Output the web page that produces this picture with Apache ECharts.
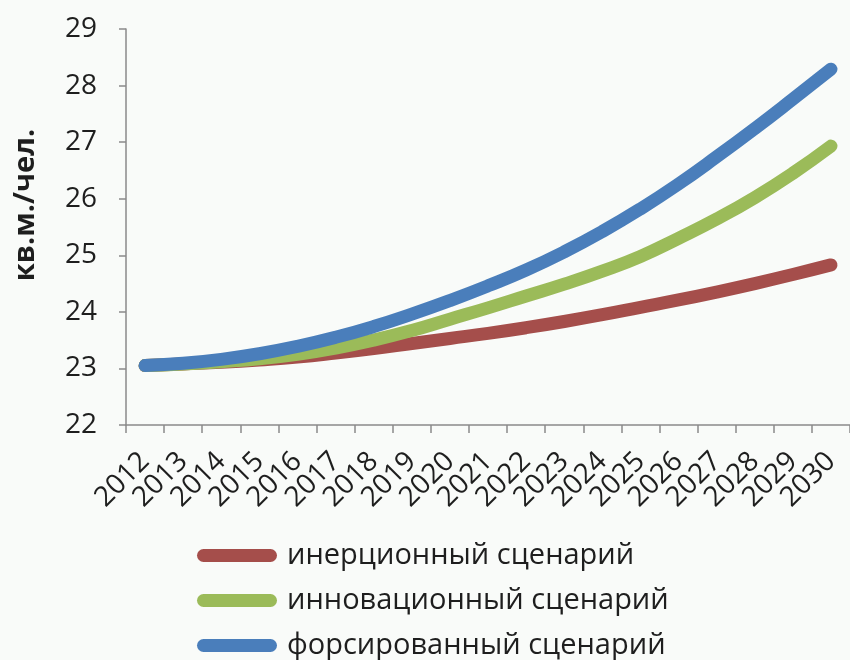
<!DOCTYPE html>
<html>
<head>
<meta charset="utf-8">
<script src="https://cdn.jsdelivr.net/npm/echarts@6/dist/echarts.min.js"></script>
<style>
  html, body { margin: 0; padding: 0; background: #f9fbf9; }
  #chart { width: 850px; height: 660px; }
</style>
</head>
<body>
<div id="chart"></div>
<script>
// Years on the horizontal axis
const years = ['2012','2013','2014','2015','2016','2017','2018','2019','2020','2021',
               '2022','2023','2024','2025','2026','2027','2028','2029','2030'];

// Housing per person, sq. m, for each scenario
const inertial   = [23.05, 23.08, 23.11, 23.15, 23.20, 23.27, 23.35, 23.44, 23.53, 23.62,
                    23.72, 23.83, 23.95, 24.08, 24.21, 24.35, 24.50, 24.66, 24.83];
const innovative = [23.05, 23.08, 23.12, 23.17, 23.25, 23.36, 23.50, 23.67, 23.87, 24.07,
                    24.28, 24.49, 24.72, 24.98, 25.30, 25.64, 26.02, 26.45, 26.93];
const forced     = [23.05, 23.09, 23.16, 23.26, 23.39, 23.55, 23.74, 23.96, 24.20, 24.46,
                    24.74, 25.06, 25.42, 25.82, 26.26, 26.74, 27.24, 27.76, 28.29];

const seriesNames = ['инерционный сценарий', 'инновационный сценарий', 'форсированный сценарий'];
const seriesColors = ['#a54e4b', '#9bbb59', '#4a7ebb'];
const seriesData = [inertial, innovative, forced];

const yMin = 22, yMax = 29, yStep = 1;

const font = '"Open Sans", "Noto Sans", sans-serif';
// rounded bar used as the legend swatch
const capsule = 'path://M6.5,0 H73.5 A6.5,6.5 0 0 1 73.5,13 H6.5 A6.5,6.5 0 0 1 6.5,0 Z';

const chart = echarts.init(document.getElementById('chart'), null, { renderer: 'canvas' });

chart.setOption({
  backgroundColor: '#f9fbf9',
  animation: false,
  grid: { left: 126, right: 0, top: 29, bottom: 235, containLabel: false },
  xAxis: {
    type: 'category',
    data: years,
    boundaryGap: true,
    axisLine: { lineStyle: { color: '#8a8a8a', width: 1.5 } },
    axisTick: { show: true, length: 8, alignWithLabel: false, lineStyle: { color: '#8a8a8a', width: 1.5 } },
    axisLabel: {
      interval: 0, rotate: 45, margin: 32,
      fontSize: 28, color: '#1e1e1e', fontFamily: font
    },
    splitLine: { show: false }
  },
  yAxis: {
    type: 'value',
    min: yMin, max: yMax, interval: yStep,
    name: 'кв.м./чел.',
    nameLocation: 'middle',
    nameGap: 86,
    nameRotate: 90,
    nameTextStyle: {
      fontSize: 29, fontWeight: 'bold', color: '#1e1e1e', fontFamily: font,
      padding: [0, 0, 0, 44]
    },
    axisLine: { show: true, lineStyle: { color: '#8a8a8a', width: 1.5 } },
    axisTick: { show: true, length: 7, lineStyle: { color: '#8a8a8a', width: 1.5 } },
    axisLabel: { margin: 29, fontSize: 28, color: '#1e1e1e', fontFamily: font },
    splitLine: { show: false }
  },
  legend: {
    orient: 'vertical',
    left: 192, top: 536, height: 200,
    itemWidth: 80, itemHeight: 13, itemGap: 16,
    icon: capsule,
    textStyle: { fontSize: 29, color: '#1e1e1e', fontFamily: font, padding: [0, 0, 0, 5] },
    data: seriesNames
  },
  series: seriesNames.map((name, i) => ({
    name: name,
    type: 'line',
    data: seriesData[i],
    smooth: true,
    symbol: 'none',
    color: seriesColors[i],
    lineStyle: { width: 13, color: seriesColors[i], cap: 'round', join: 'round' },
    z: 2 + i
  }))
});
</script>
</body>
</html>
